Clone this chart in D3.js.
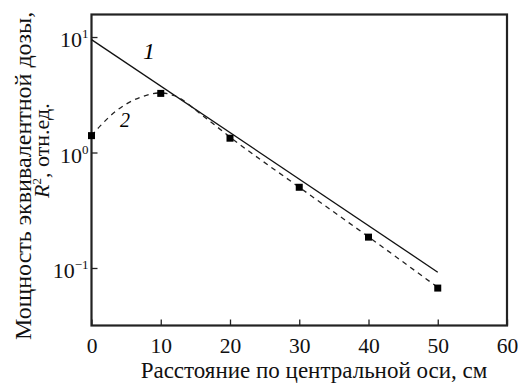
<!DOCTYPE html>
<html>
<head>
<meta charset="utf-8">
<script src="https://cdn.jsdelivr.net/npm/d3@7"></script>
<style>
	html, body { margin: 0; padding: 0; background: #fff; }
	svg { display: block; font-family: "Liberation Serif", "DejaVu Serif", serif; }
</style>
</head>
<body>
<div id="chart"></div>
<script>
// ===== data =====
var distances = [0, 10, 20, 30, 40, 50];
var measured = [1.40, 3.25, 1.33, 0.50, 0.185, 0.067];

// curve 1: straight (exponential) line, endpoints
var line1X = [0, 50];
var line1Y = [9.5, 0.092];

// curve 2: dashed curve
var curve2X = [0, 1.3, 3.4, 7, 10, 12, 16, 20, 30, 40, 50];
var curve2Y = [1.40, 1.71, 2.25, 3.0, 3.28, 3.1, 2.1, 1.36, 0.50, 0.186, 0.068];

var xTicks = [0, 10, 20, 30, 40, 50, 60];
var yTicks = [0.1, 1, 10];
var yTickExp = ['\u22121', '0', '1'];

var width = 518, height = 383;
var margin = { left: 91.5, right: 11, top: 14.5, bottom: 57.5 };

var svg = d3.select('#chart').append('svg')
	.attr('width', width)
	.attr('height', height);

var x = d3.scaleLinear()
	.domain([0, 60])
	.range([margin.left, width - margin.right]);

var y = d3.scaleLog()
	.domain([Math.pow(10, -1.498), Math.pow(10, 1.195)])
	.range([height - margin.bottom, margin.top]);

var x0 = x.range()[0], x1 = x.range()[1];
var y0 = y.range()[0], y1 = y.range()[1];

// ===== axes (ticks inward) =====
var xAxis = svg.append('g')
	.attr('transform', 'translate(0,' + y0 + ')')
	.call(d3.axisBottom(x).tickValues(xTicks).tickSizeInner(-6).tickSizeOuter(0).tickPadding(12));
xAxis.select('.domain').remove();
xAxis.selectAll('.tick line').attr('stroke', '#222').attr('stroke-width', 1.3);
xAxis.selectAll('text')
	.attr('font-family', '"Liberation Serif", serif')
	.attr('font-size', 21.5)
	.attr('fill', '#111')
	.attr('dy', '0.72em');

var yAxis = svg.append('g')
	.attr('transform', 'translate(' + x0 + ',0)')
	.call(d3.axisLeft(y).tickValues(yTicks).tickSizeInner(-6).tickSizeOuter(0).tickFormat(''));
yAxis.select('.domain').remove();
yAxis.selectAll('.tick line').attr('stroke', '#222').attr('stroke-width', 1.3);

// tick labels 10^n
yTicks.forEach(function(v, i) {
	var t = svg.append('text')
		.attr('x', x0 - 3)
		.attr('y', y(v) + 10)
		.attr('text-anchor', 'end')
		.attr('font-size', 22)
		.attr('fill', '#111');
	t.append('tspan').text('10');
	t.append('tspan')
		.attr('dy', -9)
		.attr('font-size', 13)
		.text(yTickExp[i]);
});

// frame
svg.append('rect')
	.attr('x', x0)
	.attr('y', y1)
	.attr('width', x1 - x0)
	.attr('height', y0 - y1)
	.attr('fill', 'none')
	.attr('stroke', '#222')
	.attr('stroke-width', 2.2);

// ===== curves =====
var line1 = d3.line()
	.x(function(d) { return x(d[0]); })
	.y(function(d) { return y(d[1]); });

svg.append('path')
	.datum(d3.zip(line1X, line1Y))
	.attr('d', line1)
	.attr('fill', 'none')
	.attr('stroke', '#111')
	.attr('stroke-width', 1.3);

var line2 = d3.line()
	.x(function(d) { return x(d[0]); })
	.y(function(d) { return y(d[1]); })
	.curve(d3.curveMonotoneX);

svg.append('path')
	.datum(d3.zip(curve2X, curve2Y))
	.attr('d', line2)
	.attr('fill', 'none')
	.attr('stroke', '#222')
	.attr('stroke-width', 1.3)
	.attr('stroke-dasharray', '5,4.5');

// measured points
svg.append('g').selectAll('rect')
	.data(d3.zip(distances, measured))
	.enter()
	.append('rect')
	.attr('x', function(d) { return x(d[0]) - 3.5; })
	.attr('y', function(d) { return y(d[1]) - 3.5; })
	.attr('width', 7)
	.attr('height', 7)
	.attr('fill', '#000');

// curve labels
svg.append('text')
	.attr('x', 143).attr('y', 59)
	.attr('font-size', 24)
	.attr('font-style', 'italic')
	.text('1');
svg.append('text')
	.attr('x', 120).attr('y', 127)
	.attr('font-size', 20)
	.attr('font-style', 'italic')
	.text('2');

// ===== axis titles =====
svg.append('text')
	.attr('x', 314)
	.attr('y', 378)
	.attr('text-anchor', 'middle')
	.attr('font-size', 23)
	.attr('fill', '#111')
	.text('Расстояние по центральной оси, см');

svg.append('text')
	.attr('transform', 'translate(31,340) rotate(-90)')
	.attr('text-anchor', 'start')
	.attr('font-size', 24)
	.attr('fill', '#111')
	.text('Мощность эквивалентной дозы,');

var t2 = svg.append('text')
	.attr('transform', 'translate(49,198) rotate(-90)')
	.attr('text-anchor', 'start')
	.attr('font-size', 22)
	.attr('fill', '#111');
t2.append('tspan').attr('font-style', 'italic').text('R');
t2.append('tspan').attr('dy', -8).attr('font-size', 13).text('2');
t2.append('tspan').attr('dy', 8).text(', отн.ед.');
</script>
</body>
</html>
